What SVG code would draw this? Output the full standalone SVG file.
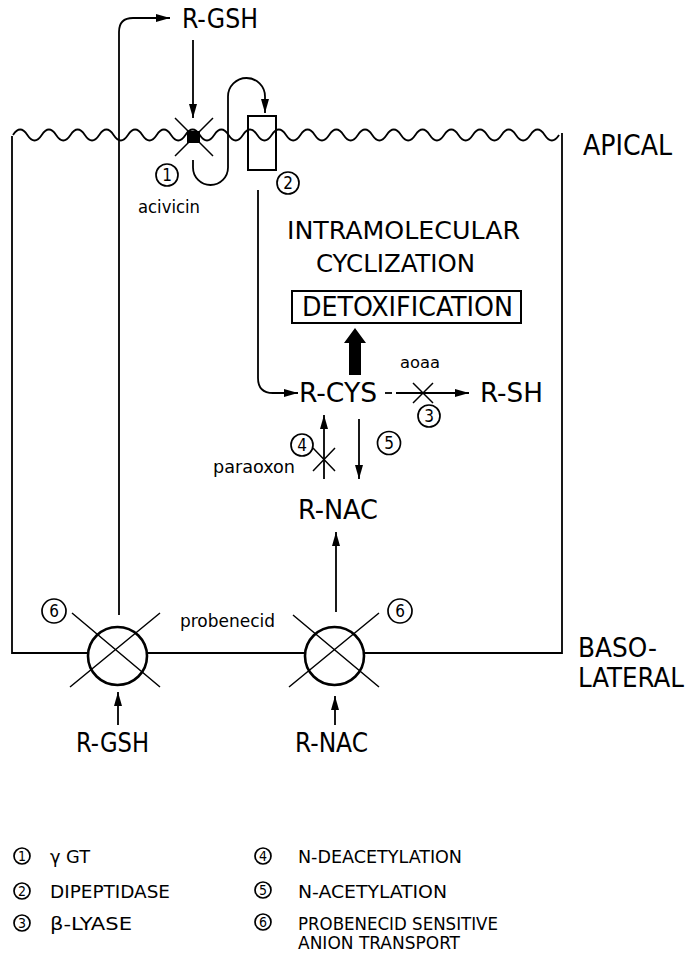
<svg xmlns="http://www.w3.org/2000/svg" width="687" height="955" viewBox="0 0 687 955">
<style>
  text { font-family: "DejaVu Sans Condensed", "DejaVu Sans", "Liberation Sans", sans-serif; fill: #000; }
  .big { font-size: 26px; }
  .mid { font-size: 24px; }
  .small { font-size: 17px; }
  .leg { font-size: 18px; }
  .num { font-size: 17px; text-anchor: middle; }
  .lnum { font-size: 14px; text-anchor: middle; }
  .ln { fill: none; stroke: #000; stroke-width: 1.8; }
  .thin { fill: none; stroke: #000; stroke-width: 1.5; }
  .circ { fill: none; stroke: #000; stroke-width: 1.7; }
  .trans { fill: #fff; stroke: #000; stroke-width: 2.6; }
  .arr { marker-end: url(#ah); }
</style>
<defs>
  <marker id="ah" markerUnits="userSpaceOnUse" markerWidth="15" markerHeight="8" refX="14" refY="4" orient="auto">
    <path d="M0,0 L14,4 L0,8 z" fill="#000"/>
  </marker>
</defs>
<rect width="687" height="955" fill="#fff"/>

<g id="cell">
  <path class="ln" d="M13,135 q7.18,-11 14.37,0 t14.37,0 t14.37,0 t14.37,0 t14.37,0 t14.37,0 t14.37,0 t14.37,0 t14.37,0 t14.37,0 t14.37,0 t14.37,0 t14.37,0 t14.37,0 t14.37,0 t14.37,0 t14.37,0 t14.37,0 t14.37,0 t14.37,0 t14.37,0 t14.37,0 t14.37,0 t14.37,0 t14.37,0 t14.37,0 t14.37,0 t14.37,0 t14.37,0 t14.37,0 t14.37,0 t14.37,0 t14.37,0 t14.37,0 t14.37,0 t14.37,0 t14.37,0 t14.37,0"/>
  <path class="ln" d="M12,136 V653 H562 V133"/>
  <text class="big" x="583" y="155" textLength="89" lengthAdjust="spacingAndGlyphs" style="font-size:28px">APICAL</text>
  <text class="big" x="578" y="657" textLength="79" lengthAdjust="spacingAndGlyphs">BASO-</text>
  <text class="big" x="578" y="687" textLength="106" lengthAdjust="spacingAndGlyphs">LATERAL</text>
</g>

<g id="connectors">
  <path class="ln arr" d="M119,615 V32 Q119,18 133,18 H170"/>
  <path class="ln arr" d="M193,40 V118"/>
  <path class="ln arr" d="M193,160 V167.5 A17.5,17.5 0 0 0 228,167.5 V96.5 A18.5,18.5 0 0 1 265,96.5 V113"/>
  <path class="ln arr" d="M258,190 V378 Q258,393 273,393 H298"/>
  <path class="ln" d="M385,393 H392"/>
  <path class="ln arr" d="M396,393 H469"/>
  <path class="ln arr" d="M324,479 V415"/>
  <path class="ln arr" d="M359,419 V479"/>
  <path class="ln arr" d="M336,612 V532"/>
  <path class="ln arr" d="M118,725 V692"/>
  <path class="ln arr" d="M335,725 V696"/>
  <path d="M349,375 V343 H344 L355,328 L366,343 H361 V375 z" fill="#000"/>
</g>

<g id="gammaGT">
  <rect x="187" y="131" width="13" height="12" fill="#000"/>
  <path class="thin" d="M175,118 L213,156 M213,118 L175,156"/>
  <circle class="circ" cx="167" cy="175" r="11"/>
  <text class="num" x="167" y="181">1</text>
  <text class="small" x="138" y="213" textLength="62" lengthAdjust="spacingAndGlyphs">acivicin</text>
</g>

<g id="dipeptidase">
  <rect x="248" y="116" width="28" height="54" fill="none" stroke="#000" stroke-width="2"/>
  <circle class="circ" cx="288" cy="183" r="11"/>
  <text class="num" x="288" y="189">2</text>
</g>

<g id="R-GSH-top">
  <text class="big" x="182" y="28" textLength="76" lengthAdjust="spacingAndGlyphs">R-GSH</text>
</g>

<g id="cyclization">
  <text class="mid" x="287" y="239" textLength="233" lengthAdjust="spacingAndGlyphs">INTRAMOLECULAR</text>
  <text class="mid" x="316" y="272" textLength="159" lengthAdjust="spacingAndGlyphs">CYCLIZATION</text>
</g>

<g id="detoxification">
  <rect x="292" y="291" width="229" height="32" fill="none" stroke="#000" stroke-width="2"/>
  <text class="big" x="302" y="316" textLength="211" lengthAdjust="spacingAndGlyphs">DETOXIFICATION</text>
</g>

<g id="R-CYS">
  <text class="big" x="299" y="402" textLength="78" lengthAdjust="spacingAndGlyphs">R-CYS</text>
</g>

<g id="beta-lyase">
  <path class="thin" d="M413,383 L433,403 M433,383 L413,403"/>
  <text class="small" x="400" y="368" textLength="40" lengthAdjust="spacingAndGlyphs" style="font-size:15px">aoaa</text>
  <circle class="circ" cx="429" cy="416" r="11"/>
  <text class="num" x="429" y="422">3</text>
</g>

<g id="R-SH">
  <text class="big" x="480" y="402" textLength="63" lengthAdjust="spacingAndGlyphs">R-SH</text>
</g>

<g id="deacetylation">
  <path class="thin" d="M313,448 L335,471 M335,448 L313,471"/>
  <circle class="circ" cx="302" cy="445" r="11"/>
  <text class="num" x="302" y="451">4</text>
  <text class="small" x="213" y="473" textLength="82" lengthAdjust="spacingAndGlyphs">paraoxon</text>
</g>

<g id="acetylation">
  <circle class="circ" cx="389" cy="443" r="11.5"/>
  <text class="num" x="389" y="449">5</text>
</g>

<g id="R-NAC-mid">
  <text class="big" x="298" y="519" textLength="80" lengthAdjust="spacingAndGlyphs">R-NAC</text>
</g>

<g id="transport-left">
  <ellipse class="trans" cx="117.5" cy="656" rx="29.5" ry="29"/>
  <path class="thin" d="M72,613 L160,687 M160,613 L70,687"/>
  <circle class="circ" cx="54" cy="611" r="12"/>
  <text class="num" x="54" y="617">6</text>
</g>

<g id="transport-right">
  <ellipse class="trans" cx="334.5" cy="656" rx="29.5" ry="29"/>
  <path class="thin" d="M293,615 L379,687 M379,613 L289,687"/>
  <circle class="circ" cx="400" cy="611" r="12"/>
  <text class="num" x="400" y="617">6</text>
  <text class="small" x="180" y="627" textLength="95" lengthAdjust="spacingAndGlyphs">probenecid</text>
</g>

<g id="R-GSH-bottom">
  <text class="big" x="76" y="752" textLength="73" lengthAdjust="spacingAndGlyphs">R-GSH</text>
</g>

<g id="R-NAC-bottom">
  <text class="big" x="295" y="752" textLength="73" lengthAdjust="spacingAndGlyphs">R-NAC</text>
</g>

<g id="legend">
  <circle class="circ" cx="22" cy="856" r="8"/>
  <text class="lnum" x="22" y="861">1</text>
  <text class="leg" x="50" y="863" textLength="40" lengthAdjust="spacingAndGlyphs">γ GT</text>
  <circle class="circ" cx="22" cy="891" r="8"/>
  <text class="lnum" x="22" y="896">2</text>
  <text class="leg" x="50" y="898" textLength="120" lengthAdjust="spacingAndGlyphs">DIPEPTIDASE</text>
  <circle class="circ" cx="22" cy="923" r="8"/>
  <text class="lnum" x="22" y="928">3</text>
  <text class="leg" x="50" y="930" textLength="82" lengthAdjust="spacingAndGlyphs">β-LYASE</text>

  <circle class="circ" cx="263" cy="856" r="8"/>
  <text class="lnum" x="263" y="861">4</text>
  <text class="leg" x="298" y="863" textLength="164" lengthAdjust="spacingAndGlyphs">N-DEACETYLATION</text>
  <circle class="circ" cx="263" cy="890" r="8"/>
  <text class="lnum" x="263" y="895">5</text>
  <text class="leg" x="298" y="898" textLength="149" lengthAdjust="spacingAndGlyphs">N-ACETYLATION</text>
  <circle class="circ" cx="263" cy="922" r="8"/>
  <text class="lnum" x="263" y="927">6</text>
  <text class="leg" x="298" y="930" textLength="200" lengthAdjust="spacingAndGlyphs">PROBENECID SENSITIVE</text>
  <text class="leg" x="298" y="949" textLength="162" lengthAdjust="spacingAndGlyphs">ANION TRANSPORT</text>
</g>
</svg>
